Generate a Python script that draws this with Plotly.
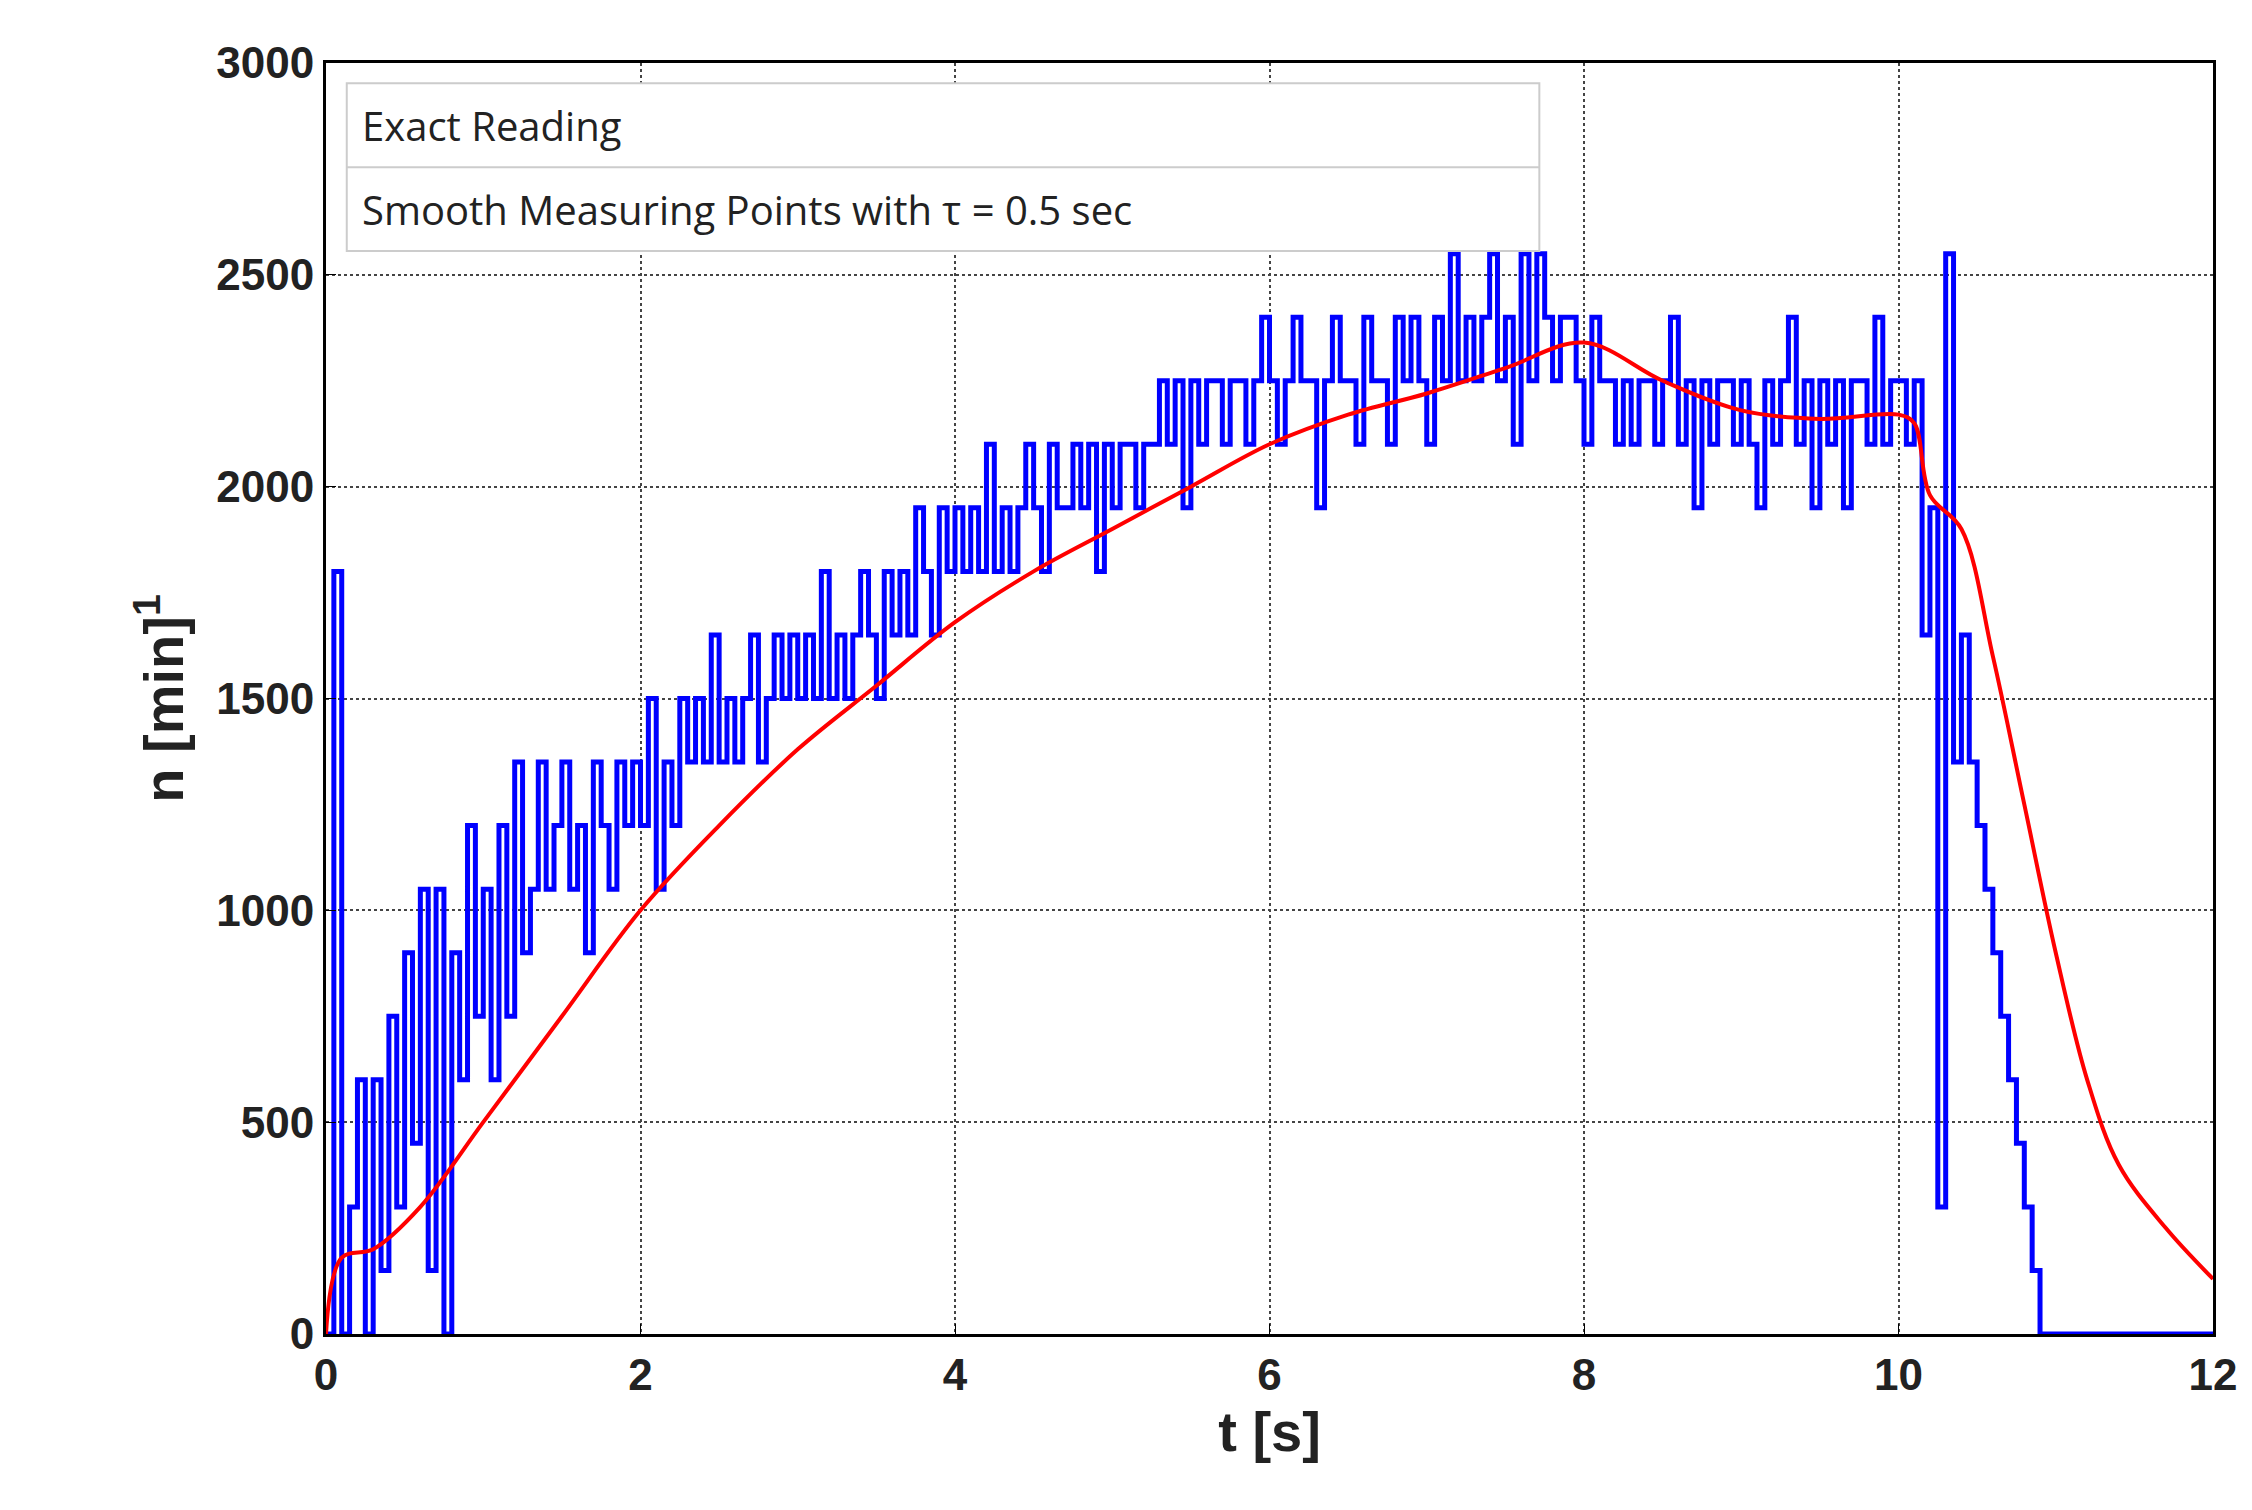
import numpy as np
import plotly.graph_objects as go

# Blue "exact reading" values, sampled every 0.05 s from 0 to 9.95 s
blue_vals = [
 0,1800,0,300,600,0,600,150,750,300,900,450,1050,150,1050,0,900,600,1200,750,
 1050,600,1200,750,1350,900,1050,1350,1050,1200,1350,1050,1200,900,1350,1200,1050,1350,1200,1350,
 1200,1500,1050,1350,1200,1500,1350,1500,1350,1650,1350,1500,1350,1500,1650,1350,1500,1650,1500,1650,
 1500,1650,1500,1800,1500,1650,1500,1650,1800,1650,1500,1800,1650,1800,1650,1950,1800,1650,1950,1800,
 1950,1800,1950,1800,2100,1800,1950,1800,1950,2100,1950,1800,2100,1950,1950,2100,1950,2100,1800,2100,
 1950,2100,2100,1950,2100,2100,2250,2100,2250,1950,2250,2100,2250,2250,2100,2250,2250,2100,2250,2400,
 2250,2100,2250,2400,2250,2250,1950,2250,2400,2250,2250,2100,2400,2250,2250,2100,2400,2250,2400,2250,
 2100,2400,2250,2550,2250,2400,2250,2400,2550,2250,2400,2100,2550,2250,2550,2400,2250,2400,2400,2250,
 2100,2400,2250,2250,2100,2250,2100,2250,2250,2100,2250,2400,2100,2250,1950,2250,2100,2250,2250,2100,
 2250,2100,1950,2250,2100,2250,2400,2100,2250,1950,2250,2100,2250,1950,2250,2250,2100,2400,2100,2250,
]
blue_t = [round(i * 0.05, 2) for i in range(len(blue_vals))]
fall_t = [10.0,10.05,10.1,10.15,10.2,10.25,10.3,10.35,10.4,10.45,10.5,10.55,10.6,10.65,10.7,10.75,10.8,10.85,10.9,12.0]
fall_v = [2250,2100,2250,1650,1950,300,2550,1350,1650,1350,1200,1050,900,750,600,450,300,150,0,0]

red_t = [0,0.1,0.3,0.6,1,1.5,2,2.5,3,3.5,4,4.5,5,5.5,6,6.5,7,7.5,8,8.5,9,9.5,10,10.1,10.2,10.4,10.6,10.8,11,11.2,11.4,11.7,12]
red_v = [0,180,200,300,500,750,1000,1200,1380,1530,1680,1800,1900,2000,2100,2170,2220,2280,2340,2250,2180,2160,2170,2150,1980,1900,1600,1250,900,600,400,250,130]

fig = go.Figure()
fig.add_trace(go.Scatter(x=blue_t + fall_t, y=blue_vals + fall_v, mode="lines",
                         line=dict(color="#0000ff", width=5), line_shape="hv", showlegend=False))
fig.add_trace(go.Scatter(x=red_t, y=red_v, mode="lines", line=dict(color="#ff0000", width=4,
                         shape="spline"), showlegend=False))

axfont = dict(family="Liberation Sans", size=44, color="#222", weight="bold")
common = dict(showline=True, linecolor="black", linewidth=3, mirror=True, ticks="inside",
              ticklen=10, tickcolor="black", showgrid=True, gridcolor="#444", griddash="dot",
              gridwidth=2, zeroline=False, tickfont=axfont)
fig.update_xaxes(range=[0, 12], dtick=2, title=dict(text="<b>t [s]</b>",
                 font=dict(family="Liberation Sans", size=56, color="#222")), **common)
fig.update_yaxes(range=[0, 3000], dtick=500, title=dict(text="<b>n [min]<sup>1</sup></b>",
                 font=dict(family="Liberation Sans", size=56, color="#222")), **common)

# legend box (text only)
fig.add_shape(type="rect", xref="paper", yref="paper", x0=0.011, x1=0.643, y0=0.852, y1=0.984,
              fillcolor="white", line=dict(color="#ccc", width=2))
fig.add_shape(type="line", xref="paper", yref="paper", x0=0.011, x1=0.643, y0=0.918, y1=0.918,
              line=dict(color="#ccc", width=2))
for y, txt in [(0.951, "Exact Reading"), (0.885, "Smooth Measuring Points with τ = 0.5 sec")]:
    fig.add_annotation(xref="paper", yref="paper", x=0.018, y=y, text=txt, showarrow=False,
                       xanchor="left", yanchor="middle",
                       font=dict(family="Open Sans", size=40, color="#222"))

fig.update_layout(width=2252, height=1510, plot_bgcolor="white", paper_bgcolor="white",
                  margin=dict(l=318, r=47, t=55, b=184))
fig.write_html("out.html")
